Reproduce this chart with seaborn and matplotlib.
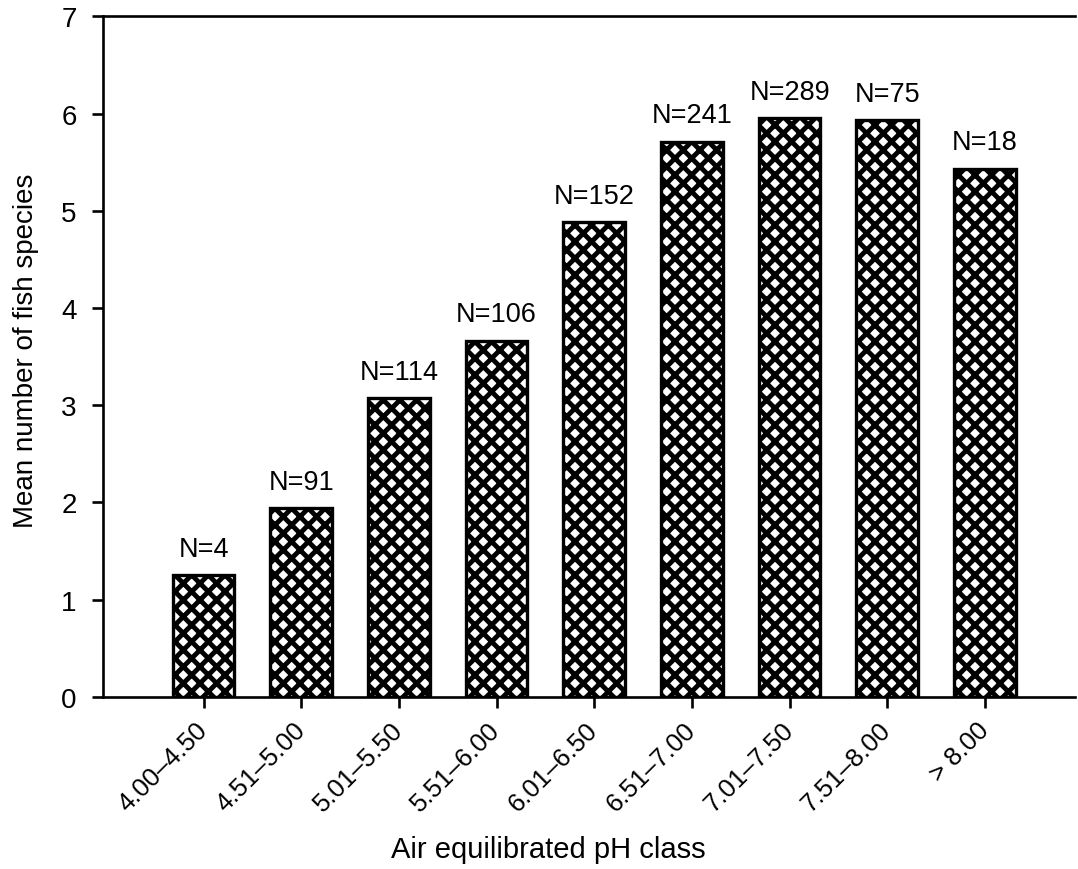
import matplotlib
matplotlib.use("Agg")
import matplotlib.pyplot as plt
import seaborn as sns
import pandas as pd

categories = ["4.00–4.50", "4.51–5.00", "5.01–5.50", "5.51–6.00", "6.01–6.50",
              "6.51–7.00", "7.01–7.50", "7.51–8.00", "> 8.00"]
means = [1.25, 1.94, 3.07, 3.66, 4.88, 5.71, 5.95, 5.93, 5.43]
n_counts = [4, 91, 114, 106, 152, 241, 289, 75, 18]
yticks = [0, 1, 2, 3, 4, 5, 6, 7]

sns.set_style("ticks")
plt.rcParams["font.family"] = ["Liberation Sans", "DejaVu Sans"]
plt.rcParams["hatch.linewidth"] = 3.5
plt.rcParams["hatch.color"] = "black"
plt.rcParams["text.color"] = "black"
plt.rcParams["axes.labelcolor"] = "black"

df = pd.DataFrame({"cls": categories, "mean": means, "n": n_counts})

fig = plt.figure(figsize=(10.78, 8.70), dpi=100)
ax = fig.add_axes([0.0955, 0.198, 0.9015, 0.782])

sns.barplot(data=df, x="cls", y="mean", color="white", edgecolor="black",
            linewidth=2.4, width=0.63, saturation=1, ax=ax)
for p in ax.patches:
    p.set_hatch("xx")
    p.set_facecolor("white")

for i, (m, n) in enumerate(zip(means, n_counts)):
    ax.text(i, m + 0.14, f"N={n}", ha="center", va="bottom", fontsize=19.5, color="black")

ax.set_ylim(0, 7)
ax.set_xlim(-1.03, 8.92)
ax.set_yticks(yticks)
ax.set_yticklabels([str(t) for t in yticks], fontsize=20)
ax.set_xticks(range(len(categories)))
ax.set_xticklabels(categories, rotation=45, ha="right", va="center",
                   rotation_mode="anchor", fontsize=18.5)
ax.set_xlabel("Air equilibrated pH class", fontsize=21, labelpad=14, x=0.458)
ax.set_ylabel("Mean number of fish species", fontsize=20, labelpad=16, y=0.51)

for s in ["left", "bottom", "top"]:
    ax.spines[s].set_linewidth(1.9)
    ax.spines[s].set_color("black")
ax.spines["right"].set_visible(False)
ax.tick_params(axis="both", direction="out", length=8, width=1.9, color="black", labelcolor="black")
ax.tick_params(axis="x", pad=13)
ax.tick_params(axis="y", pad=11)

fig.savefig("out.png", dpi=100)
